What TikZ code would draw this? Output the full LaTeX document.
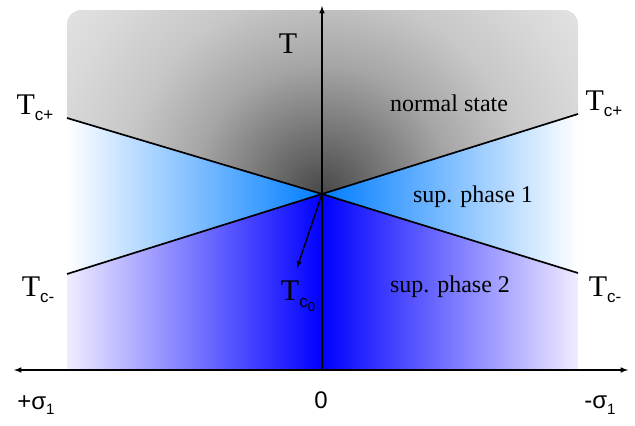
\documentclass[tikz,border=0pt]{standalone}
\usepackage{fontspec}
\setmainfont{Liberation Serif}
\newfontfamily\axisfont{Liberation Sans}
\usepackage{tikz}
\tikzset{>=latex}
\usetikzlibrary{calc}
\definecolor{phaseone}{RGB}{0,125,255}
\definecolor{phasetwo}{RGB}{0,0,255}
\definecolor{phaseedge}{RGB}{240,236,255}
\pgfdeclareradialshading{normalglow}{\pgfpoint{0bp}{0bp}}{color(0bp)=(black!72); color(4.3bp)=(black!55); color(9.4bp)=(black!35); color(14.5bp)=(black!22); color(19.6bp)=(black!15); color(25bp)=(black!9); color(50bp)=(black!9)}
\newcommand{\sublab}[2]{#1\raisebox{-0.45ex}{\fontsize{17}{17}\selectfont\axisfont #2}}

\begin{document}
\begin{tikzpicture}[x=1pt, y=-1pt,
    phase line/.style={line width=1.7pt, black},
    axis line/.style={line width=1.5pt, black},
    region/.style={font=\fontsize{24}{26}\selectfont},
    tlabel/.style={font=\fontsize{30}{32}\selectfont},
    slabel/.style={font=\fontsize{24}{26}\selectfont\axisfont}]
    \useasboundingbox (0,0) rectangle (635,426);
    % points of the diagram
    \coordinate (cross) at (322,194);
    \coordinate (tcpl) at (67,118);
    \coordinate (tcpr) at (578,114);
    \coordinate (tcml) at (67,274);
    \coordinate (tcmr) at (578,273);
    \coordinate (orig) at (322,370);
    \coordinate (ttop) at (322,6);
    \coordinate (sigl) at (14,370);
    \coordinate (sigr) at (628,370);
    \coordinate (tc0) at (297,268);

    % normal state
    \begin{scope}
        \clip [rounded corners=14pt] (67,60) -- (67,10) -- (578,10) -- (578,60) [sharp corners] -- (tcpr) -- (cross) -- (tcpl) -- cycle;
        \shade [shading=normalglow] (cross) circle (345pt);
    \end{scope}
    % sup. phase 1
    \begin{scope}
        \clip (tcpl) -- (cross) -- (tcml) -- cycle;
        \shade [left color=white, right color=phaseone] (67,110) rectangle (322,280);
    \end{scope}
    \begin{scope}
        \clip (tcpr) -- (cross) -- (tcmr) -- cycle;
        \shade [left color=phaseone, right color=white] (322,110) rectangle (578,280);
    \end{scope}
    % sup. phase 2
    \begin{scope}
        \clip (tcml) -- (cross) -- (orig) -- (67,370) -- cycle;
        \shade [left color=phaseedge, right color=phasetwo] (67,190) rectangle (322,370);
    \end{scope}
    \begin{scope}
        \clip (tcmr) -- (cross) -- (orig) -- (578,370) -- cycle;
        \shade [left color=phasetwo, right color=phaseedge] (322,190) rectangle (578,370);
    \end{scope}

    \draw [phase line] (tcpl) -- (cross) -- (tcpr);
    \draw [phase line] (tcml) -- (cross) -- (tcmr);
    \draw [axis line, <->] (sigl) -- (sigr);
    \draw [axis line, ->] (orig) -- (ttop);
    \draw [line width=1.4pt, ->] (cross) -- (tc0);

    \node [tlabel] (tlab) at (288,44) {T};
    \node [tlabel] (tcpllab) at (35,108) {\sublab{T}{c+}};
    \node [tlabel] (tcprlab) at (604,104) {\sublab{T}{c+}};
    \node [tlabel] (tcmllab) at (38,290) {\sublab{T}{c-}};
    \node [tlabel] (tcmrlab) at (605,290) {\sublab{T}{c-}};
    \node [tlabel] (tc0lab) at (298,296) {T\raisebox{-0.5ex}{\fontsize{17}{17}\selectfont\axisfont c\raisebox{-0.4ex}{\fontsize{13}{13}\selectfont 0}}};
    \node [region] (normal) at (449,103) {normal state};
    \node [region] (phase1) at (473,197) {sup. phase 1};
    \node [region] (phase2) at (450,287) {sup. phase 2};
    \node [slabel] (sigllab) at (36,405) {+σ\raisebox{-0.45ex}{\fontsize{15}{15}\selectfont 1}};
    \node [slabel] (zero) at (321,400) {0};
    \node [slabel] (sigrlab) at (600,405) {-σ\raisebox{-0.45ex}{\fontsize{15}{15}\selectfont 1}};
\end{tikzpicture}
\end{document}
